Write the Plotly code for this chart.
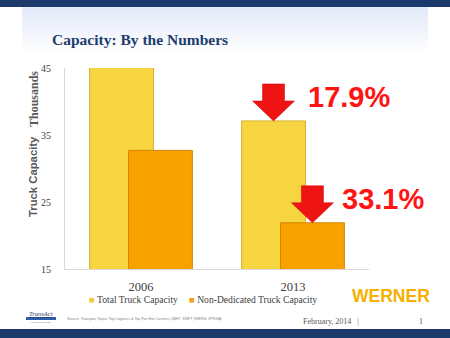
import plotly.graph_objects as go

# ---- data ----
years = ["2006", "2013"]
total_capacity = [45.2, 37.1]          # thousands
non_dedicated_capacity = [32.7, 21.9]  # thousands
change_labels = ["17.9%", "33.1%"]
y_ticks = [15, 25, 35, 45]

W, H = 450, 338
L, R, T, B = 65, 81, 68, 69
PW, PH = W - L - R, H - T - B

def px(x):
    return (x - L) / PW

def py(y):
    return (H - B - y) / PH

BAR_W = 0.42
OFF1, OFF2 = -0.338, -0.082

fig = go.Figure()
fig.add_trace(go.Bar(
    x=years, y=total_capacity, name="Total Truck Capacity",
    width=BAR_W, offset=OFF1,
    marker=dict(color="#F7D541", line=dict(color="#D8AE2E", width=1)),
))
fig.add_trace(go.Bar(
    x=years, y=non_dedicated_capacity, name="Non-Dedicated Truck Capacity",
    width=BAR_W, offset=OFF2,
    marker=dict(color="#F8A200", line=dict(color="#D38600", width=1)),
))

shapes = []
# header background gradient panel
n = 12
for i in range(n):
    y0 = 7 + (55 - 7) * i / n
    y1 = 7 + (55 - 7) * (i + 1) / n
    t = i / (n - 1)
    r = int(228 + (255 - 228) * t)
    g = int(234 + (255 - 234) * t)
    b = int(249 + (255 - 249) * t)
    shapes.append(dict(type="rect", xref="paper", yref="paper",
                       x0=px(22), x1=px(428), y0=py(y1), y1=py(y0),
                       fillcolor=f"rgb({r},{g},{b})", line=dict(width=0), layer="below"))
# top & bottom navy bands
shapes.append(dict(type="rect", xref="paper", yref="paper", x0=px(0), x1=px(W),
                   y0=py(7), y1=py(0), fillcolor="#1B3A6B", line=dict(width=0), layer="below"))
shapes.append(dict(type="rect", xref="paper", yref="paper", x0=px(0), x1=px(W),
                   y0=py(H), y1=py(329), fillcolor="#1B3A6B", line=dict(width=0), layer="below"))
# TransAct logo bar
shapes.append(dict(type="rect", xref="paper", yref="paper", x0=px(26), x1=px(56),
                   y0=py(320), y1=py(317), fillcolor="#2E5FA8", line=dict(width=0)))

# red down arrows pointing at the 2013 bar tops
arrow_path = "M 0 0 L -21 20 L -11 20 L -11 37 L 11 37 L 11 20 L 21 20 Z"
bar_centers = [OFF1 + BAR_W / 2, OFF2 + BAR_W / 2]
for c, v in zip(bar_centers, [total_capacity[1], non_dedicated_capacity[1]]):
    shapes.append(dict(type="path", xref="x", yref="y",
                       xsizemode="pixel", ysizemode="pixel",
                       xanchor=1 + c, yanchor=v, path=arrow_path,
                       fillcolor="#EE1414", line=dict(color="#D00000", width=0.5)))

annotations = []
for c, v, lab, xs in zip(bar_centers, [total_capacity[1], non_dedicated_capacity[1]],
                          change_labels, [32, 28]):
    annotations.append(dict(x=1 + c, y=v, xref="x", yref="y", text=f"<b>{lab}</b>",
                            showarrow=False, xanchor="left", yanchor="middle",
                            xshift=xs, yshift=24,
                            font=dict(family="Liberation Sans, Arial", size=29, color="#FF1414")))

annotations += [
    dict(x=px(50), y=py(39), xref="paper", yref="paper", text="<b>Capacity: By the Numbers</b>",
         showarrow=False, xanchor="left", yanchor="middle",
         font=dict(family="Liberation Serif, Times New Roman", size=15.5, color="#1F3C6E")),
    dict(x=px(33), y=py(177), xref="paper", yref="paper", text="<b>Truck Capacity</b>",
         showarrow=False, textangle=-90, xanchor="center", yanchor="middle",
         font=dict(family="Liberation Sans, Arial", size=11.3, color="#595959")),
    dict(x=px(34), y=py(99), xref="paper", yref="paper", text="<b>Thousands</b>",
         showarrow=False, textangle=-90, xanchor="center", yanchor="middle",
         font=dict(family="Liberation Serif, Times New Roman", size=12, color="#595959")),
    dict(x=px(87), y=py(299), xref="paper", yref="paper",
         text="<span style='color:#F2CC3A'>■</span> Total Truck Capacity",
         showarrow=False, xanchor="left", yanchor="middle",
         font=dict(family="Liberation Serif, Times New Roman", size=9.6, color="#404040")),
    dict(x=px(187), y=py(299), xref="paper", yref="paper",
         text="<span style='color:#F0A010'>■</span> Non-Dedicated Truck Capacity",
         showarrow=False, xanchor="left", yanchor="middle",
         font=dict(family="Liberation Serif, Times New Roman", size=9.6, color="#404040")),
    dict(x=px(391), y=py(296), xref="paper", yref="paper", text="<b>WERNER</b>",
         showarrow=False, xanchor="center", yanchor="middle",
         font=dict(family="Liberation Sans, Arial", size=17.5, color="#F5B000")),
    dict(x=px(41), y=py(313), xref="paper", yref="paper", text="<i><u>TransAct</u></i>",
         showarrow=False, xanchor="center", yanchor="middle",
         font=dict(family="Liberation Serif", size=6.5, color="#1F3C6E")),
    dict(x=px(41), y=py(322.5), xref="paper", yref="paper", text="TECHNOLOGIES",
         showarrow=False, xanchor="center", yanchor="middle",
         font=dict(family="Liberation Sans", size=2.5, color="#7F7F7F")),
    dict(x=px(65), y=py(318.5), xref="paper", yref="paper",
         text="Source: Transport Topics Top Logistics &amp; Top For-Hire Carriers (JBHT, SWFT (WERN, XPRSA)",
         showarrow=False, xanchor="left", yanchor="middle",
         font=dict(family="Liberation Sans, Arial", size=3.7, color="#7F7F7F")),
    dict(x=px(301), y=py(321.5), xref="paper", yref="paper", text="February, 2014 &nbsp;&nbsp;|",
         showarrow=False, xanchor="left", yanchor="middle",
         font=dict(family="Liberation Serif, Times New Roman", size=8, color="#595959")),
    dict(x=px(421), y=py(321.5), xref="paper", yref="paper", text="1",
         showarrow=False, xanchor="center", yanchor="middle",
         font=dict(family="Liberation Serif, Times New Roman", size=8, color="#595959")),
]

fig.update_layout(
    width=W, height=H,
    margin=dict(l=L, r=R, t=T, b=B, pad=0),
    barmode="overlay",
    paper_bgcolor="white", plot_bgcolor="white",
    showlegend=False,
    shapes=shapes, annotations=annotations,
    xaxis=dict(type="category", range=[-0.5, 1.5], showgrid=False, ticks="",
               showline=True, linecolor="#D9D9D9", linewidth=1,
               tickfont=dict(family="Liberation Serif, Times New Roman", size=12.5, color="#404040"),
               ticklabelstandoff=6),
    yaxis=dict(range=[15, 45], tickvals=y_ticks, showgrid=False, zeroline=False,
               showline=True, linecolor="#D9D9D9", linewidth=1, ticks="",
               tickfont=dict(family="Liberation Serif, Times New Roman", size=10, color="#404040"),
               ticklabelstandoff=11),
)

fig.write_html("out.html")
